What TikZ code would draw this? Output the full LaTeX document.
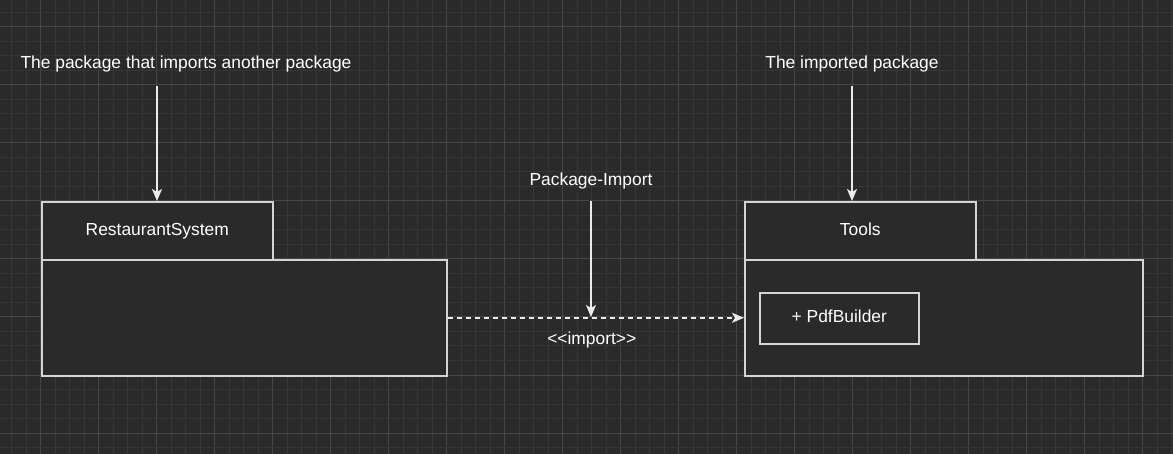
\documentclass[tikz,border=0pt]{standalone}
\usepackage{fontspec}
\setmainfont{Liberation Sans}[Ligatures=NoCommon]
\usetikzlibrary{arrows.meta,positioning}
\definecolor{canvasbg}{HTML}{2A2A2A}
\definecolor{gridminor}{HTML}{363636}
\definecolor{gridmajor}{HTML}{474747}
\definecolor{strokegray}{HTML}{D4D4D4}

\begin{document}
\begin{tikzpicture}[
    x=1pt, y=-1pt,
    every node/.style={font=\fontsize{17.4}{20}\selectfont, text=white, text height=12.5pt, text depth=3.7pt},
    label/.style={inner sep=0pt},
    pkgtab/.style={rectangle, draw=strokegray, line width=1.6pt, fill=canvasbg, minimum width=231pt, minimum height=58pt, anchor=north west, inner sep=0pt},
    pkgbody/.style={rectangle, draw=strokegray, line width=1.6pt, fill=canvasbg, minimum height=116pt, anchor=north west, inner sep=0pt},
    member/.style={rectangle, draw=strokegray, line width=1.6pt, fill=canvasbg, minimum width=159pt, minimum height=51pt, anchor=north west, inner sep=0pt},
    pointer/.style={draw=white!92!black, line width=1.6pt, -{Stealth[length=12pt, width=10pt, inset=3pt]}},
    importline/.style={pointer, dash pattern=on 5pt off 4pt}
]
% background and grid
\fill[canvasbg] (0,0) rectangle (1173,454);
\useasboundingbox (0,0) rectangle (1173,454);
\foreach \i in {0,...,80} {
    \pgfmathsetmacro{\gx}{11.7+14.5*\i}
    \pgfmathtruncatemacro{\ismajor}{mod(\i+2,4)==0}
    \ifnum\ismajor=1
        \draw[gridmajor, line width=1pt] (\gx,0) -- (\gx,454);
    \else
        \draw[gridminor, line width=1pt] (\gx,0) -- (\gx,454);
    \fi
}
\foreach \j in {0,...,31} {
    \pgfmathsetmacro{\gy}{12.5+14.5*\j}
    \pgfmathtruncatemacro{\ismajor}{mod(\j+3,4)==0}
    \ifnum\ismajor=1
        \draw[gridmajor, line width=1pt] (0,\gy) -- (1173,\gy);
    \else
        \draw[gridminor, line width=1pt] (0,\gy) -- (1173,\gy);
    \fi
}

% importing package
\node[pkgtab] (resttab) at (41,201) {RestaurantSystem};
\node[pkgbody, minimum width=405pt] (restbody) at (41,259) {};

% imported package
\node[pkgtab] (toolstab) at (744,201) {Tools};
\node[pkgbody, minimum width=398pt] (toolsbody) at (744,259) {};
\node[member] (pdf) at (759,292) {+ PdfBuilder};

% annotations
\node[label] (importer) at (186,64) {The package that imports another package};
\node[label] (imported) at (852,64) {The imported package};
\node[label] (relname) at (591,181) {Package-Import};

\coordinate (importerend) at (157,201);
\coordinate (importedend) at (852,201);
\coordinate (relend) at (591,317);

\draw[pointer] (157,86) -- (importerend);
\draw[pointer] (852,86) -- (importedend);
\draw[pointer] (relname.south |- 0,201) -- (relend);

% package import dependency
\draw[importline] (restbody.east) -- node[label, below=13pt, xshift=-4pt] (stereo) {\textless{}\textless{}import\textgreater{}\textgreater{}} (toolsbody.west);
\end{tikzpicture}
\end{document}
